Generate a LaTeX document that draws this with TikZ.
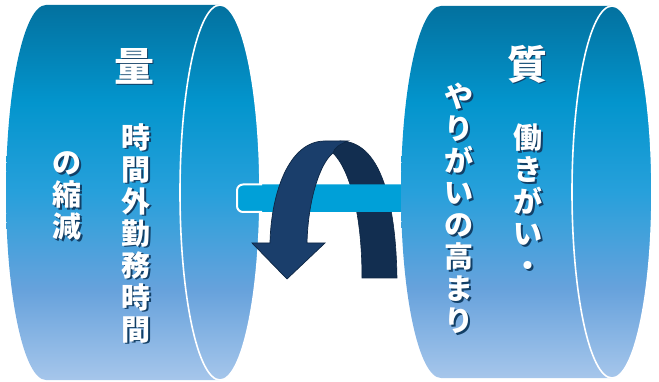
\documentclass[tikz,border=0pt]{standalone}
\usepackage{fontspec}
\newfontfamily\jp{Noto Sans CJK JP}

% cylinder gradient colours, top to bottom
\definecolor{cylA}{HTML}{03719F}
\definecolor{cylB}{HTML}{0395CD}
\definecolor{cylC}{HTML}{27A0DB}
\definecolor{cylD}{HTML}{67A2DC}
\definecolor{cylE}{HTML}{A6C6EB}
\definecolor{barblue}{HTML}{00A0D8}
\definecolor{arrfront}{HTML}{1A3E6B}
\definecolor{arrback}{HTML}{122E50}
\definecolor{arredge}{HTML}{0D2644}
\definecolor{txtshadow}{HTML}{123F66}

\pgfdeclareverticalshading{cylfill}{100bp}{%
  color(0bp)=(cylE); color(25bp)=(cylE); color(37bp)=(cylD);
  color(50bp)=(cylC); color(62bp)=(cylB); color(75bp)=(cylA);
  color(100bp)=(cylA)}

\tikzset{
  cylbody/.style={shading=cylfill},
  cylrim/.style={draw=white, line width=1.6pt},
  jtext/.style={text=white, inner sep=0pt, align=center,
                font=\jp\bfseries\fontsize{29}{32}\selectfont},
  jbig/.style={jtext, font=\jp\bfseries\fontsize{40}{44}\selectfont},
}

% one glyph with a drop shadow behind it
\newcommand\sg[1]{\rlap{\kern1.7pt\raisebox{-1.7pt}{\textcolor{txtshadow}{#1}}}#1}

\begin{document}
\begin{tikzpicture}[x=1pt, y=-1pt]
\useasboundingbox (0,0) rectangle (659,382);

% left cylinder
\shade[cylbody] (46,380) arc[start angle=90, end angle=270, x radius=40, y radius=187.5]
  -- (220,5) arc[start angle=270, end angle=450, x radius=40, y radius=187.5] -- cycle;
\draw[cylrim] (220,192.5) ellipse[x radius=40, y radius=187.5];

% back half of the turning arrow
\fill[arrback, draw=arredge, line width=0.6pt]
  (362,278) -- (397,278) .. controls (396,215) and (385,141) .. (340,141)
  -- (325,150) -- (333,153) .. controls (350,170) and (362,215) .. (362,278) -- cycle;

% axle between the two cylinders
\fill[barblue, rounded corners=5] (237,184.5) rectangle (420,212);
\draw[white, line width=2pt, rounded corners=6] (262,184.5) -- (237,184.5) -- (237,212) -- (262,212);

% front half of the turning arrow, with its head
\fill[arrfront, draw=arredge, line width=0.7pt, line join=miter]
  (270,243) .. controls (271,195) and (288,141) .. (325,141) -- (348,141)
  .. controls (340,144) and (334,148) .. (333,153)
  .. controls (320,163) and (308,200) .. (307,243)
  -- (325,243) -- (287,279) -- (252,243) -- cycle;

% right cylinder
\shade[cylbody] (441,378) arc[start angle=90, end angle=270, x radius=40, y radius=186]
  -- (612,6) arc[start angle=270, end angle=450, x radius=40, y radius=186] -- cycle;
\draw[cylrim] (612,192) ellipse[x radius=40, y radius=186];

% labels, set as vertical columns
\node[jbig]  (ryo)      at (134,67)  {\sg{量}};
\node[jtext] (jikan)    at (136,234) {\sg{時}\\\sg{間}\\\sg{外}\\\sg{勤}\\\sg{務}\\\sg{時}\\\sg{間}};
\node[jtext] (shukugen) at (67,197)  {\sg{の}\\\sg{縮}\\\sg{減}};
\node[jbig]  (shitsu)   at (527,65)  {\sg{質}};
\node[jtext] (hataraki) at (528,201) {\sg{働}\\\sg{き}\\\sg{が}\\\sg{い}\\\sg{・}};
\node[jtext] (yarigai)  at (459,209) {\sg{や}\\\sg{り}\\\sg{が}\\\sg{い}\\\sg{の}\\\sg{高}\\\sg{ま}\\\sg{り}};
\end{tikzpicture}
\end{document}
